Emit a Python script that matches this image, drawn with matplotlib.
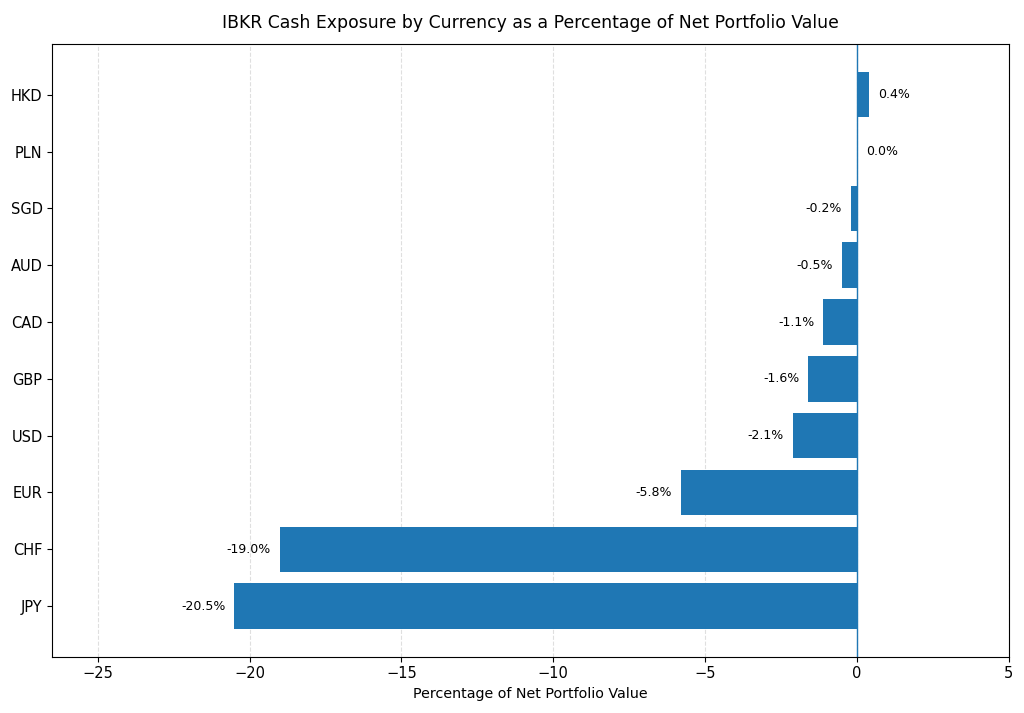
import matplotlib
matplotlib.use("Agg")
import matplotlib.pyplot as plt

# cash exposure per currency, % of net portfolio value
currencies = ['JPY', 'CHF', 'EUR', 'USD', 'GBP', 'CAD', 'AUD', 'SGD', 'PLN', 'HKD']
pct = [-20.5, -19.0, -5.8, -2.1, -1.6, -1.1, -0.5, -0.2, 0.0, 0.4]

fig, ax = plt.subplots(figsize=(10.24, 7.13), dpi=100)
bars = ax.barh(currencies, pct, color='#1f77b4', height=0.8)

# value labels next to bar ends
for bar, v in zip(bars, pct):
    y = bar.get_y() + bar.get_height() / 2
    if v < 0:
        ax.text(v - 0.3, y, f"{v:.1f}%", ha='right', va='center', fontsize=9)
    else:
        ax.text(v + 0.3, y, f"{v:.1f}%", ha='left', va='center', fontsize=9)

ax.axvline(0, color='#1f77b4', linewidth=1)
ax.grid(axis='x', linestyle='--', alpha=0.4)
ax.set_axisbelow(True)
ax.set_xlim(-26.5, 5)
ax.tick_params(labelsize=10.5)
ax.set_xlabel("Percentage of Net Portfolio Value", fontsize=10.3)
ax.set_title("IBKR Cash Exposure by Currency as a Percentage of Net Portfolio Value",
             fontsize=12.4, pad=12)

plt.subplots_adjust(left=0.051, right=0.985, top=0.938, bottom=0.079)
plt.savefig("out.png", dpi=100)
